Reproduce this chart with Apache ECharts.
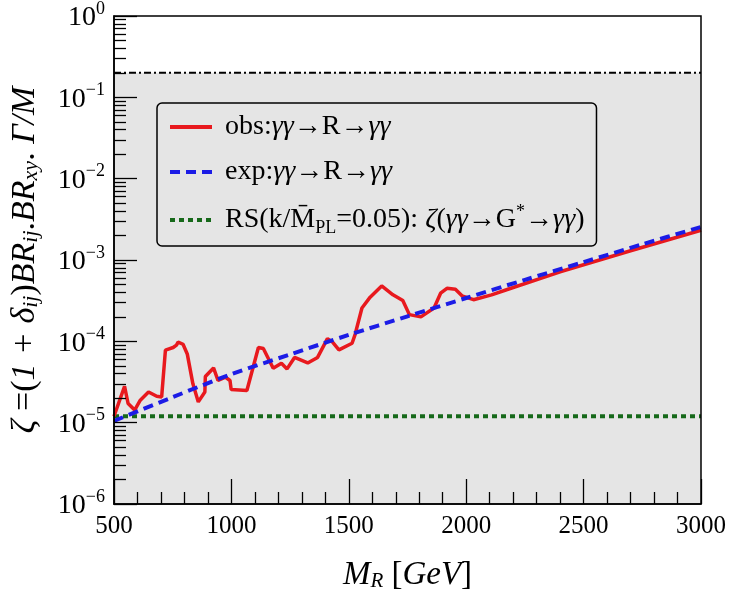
<!DOCTYPE html>
<html><head><meta charset="utf-8">
<script src="https://cdn.jsdelivr.net/npm/echarts@6/dist/echarts.min.js"></script>
<style>html,body{margin:0;padding:0;background:#fff}#c{width:729px;height:597px}</style>
</head><body><div id="c"></div>
<script>
// observed limit (red solid)
const massObs = [500, 545, 560, 588, 612, 647, 682, 703, 719, 752, 766, 773, 794, 812, 836, 859, 887, 889, 924, 943, 975, 994, 999, 1066, 1115, 1136, 1178, 1213, 1237, 1269, 1325, 1367, 1409, 1430, 1458, 1514, 1527, 1556, 1591, 1640, 1688, 1730, 1758, 1807, 1863, 1891, 1918, 1954, 1982, 2031, 2108, 2178, 2400, 2700, 3000];
const zetaObs = [1.2e-5, 2.8e-5, 1.72e-5, 1.43e-5, 1.89e-5, 2.38e-5, 2.11e-5, 2.07e-5, 7.8e-5, 8.4e-5, 9.0e-5, 9.8e-5, 9.2e-5, 7.0e-5, 3.0e-5, 1.8e-5, 2.38e-5, 3.69e-5, 4.71e-5, 3.3e-5, 3.62e-5, 3.3e-5, 2.55e-5, 2.49e-5, 8.4e-5, 8.15e-5, 4.66e-5, 5.36e-5, 4.58e-5, 6.34e-5, 5.42e-5, 6.34e-5, 1.08e-4, 9.84e-5, 7.86e-5, 9.48e-5, 1.22e-4, 2.57e-4, 3.49e-4, 4.8e-4, 3.73e-4, 3.18e-4, 2.13e-4, 2.0e-4, 2.57e-4, 3.91e-4, 4.49e-4, 4.37e-4, 3.63e-4, 3.25e-4, 3.73e-4, 4.37e-4, 7.16e-4, 1.3e-3, 2.32e-3];
// expected limit (blue dashed)
const massExp = [500, 750, 1000, 1250, 1500, 1750, 2000, 2250, 2500, 2750, 3000];
const zetaExp = [1.05e-5, 2.06e-5, 3.95e-5, 6.9e-5, 1.2e-4, 2.03e-4, 3.41e-4, 5.71e-4, 9.42e-4, 1.56e-3, 2.55e-3];
// RS graviton (green dotted)
const massRS = [500, 3000];
const zetaRS = [1.2e-5, 1.2e-5];
// perturbativity bound (black dash-dot, grey region below)
const massBound = [500, 3000];
const zetaBound = [0.2, 0.2];
// ticks
const xTicks = [500, 1000, 1500, 2000, 2500, 3000];
const yExponents = [-6, -5, -4, -3, -2, -1, 0];
const yMajor = yExponents.map(e => Math.pow(10, e));
const yMinor = [];
yExponents.slice(0, -1).forEach(e => { for (let k = 2; k <= 9; k++) yMinor.push(k * Math.pow(10, e)); });

const zip = (a, b) => a.map((v, i) => [v, b[i]]);
const serif = 'Liberation Serif, Times New Roman, DejaVu Serif, serif';

const legendNames = {
  obs: '{n|obs:}{i|γγ}{n|→R→}{i|γγ}',
  exp: '{n|exp:}{i|γγ}{n|→R→}{i|γγ}',
  rs: '{n|RS(k/M\u0304}{sub|PL}{n|=0.05): }{i|ζ}{n|(}{i|γγ}{n|→G}{sup|*}{n|→}{i|γγ}{n|)}'
};

const chart = echarts.init(document.getElementById('c'), null, {renderer: 'canvas'});
chart.setOption({
  animation: false,
  backgroundColor: '#fff',
  grid: {left: 110, right: 23, top: 16, bottom: 87, show: true, z: 10, borderColor: '#000', borderWidth: 1.5, backgroundColor: 'transparent'},
  legend: {
    data: ['obs', 'exp', 'rs'],
    orient: 'vertical',
    left: 157, top: 103,
    itemWidth: 42, itemHeight: 14, itemGap: 17,
    padding: [10, 12, 9, 11],
    borderColor: '#000', borderWidth: 1.5, borderRadius: 5,
    backgroundColor: 'transparent',
    itemStyle: {opacity: 0, borderWidth: 0},
    lineStyle: {width: 4},
    formatter: name => legendNames[name],
    textStyle: {
      padding: [0, 0, 0, 8],
      rich: {
        n: {fontFamily: serif, fontSize: 28, color: '#000'},
        i: {fontFamily: serif, fontSize: 28, fontStyle: 'italic', color: '#000'},
        sub: {fontFamily: serif, fontSize: 18, color: '#000', verticalAlign: 'bottom', lineHeight: 26},
        sup: {fontFamily: serif, fontSize: 18, color: '#000', verticalAlign: 'top', lineHeight: 34}
      }
    }
  },
  xAxis: {
    type: 'value', min: 500, max: 3000, interval: 500, z: 10,
    axisLine: {lineStyle: {color: '#000', width: 1.5}},
    axisTick: {inside: true, length: 25, lineStyle: {color: '#000', width: 1.3}},
    minorTick: {show: true, splitNumber: 5, length: 12, lineStyle: {color: '#000', width: 1.3}},
    splitLine: {show: false},
    axisLabel: {fontFamily: serif, fontSize: 25, color: '#000', margin: 10,
      formatter: v => xTicks.includes(v) ? String(v) : ''},
    name: '{i|M}{sub|R}{n| [}{i|GeV}{n|]}',
    nameLocation: 'middle', nameGap: 55,
    nameTextStyle: {
      rich: {
        i: {fontFamily: serif, fontSize: 33, fontStyle: 'italic', color: '#000'},
        n: {fontFamily: serif, fontSize: 33, color: '#000'},
        sub: {fontFamily: serif, fontSize: 21, fontStyle: 'italic', color: '#000', verticalAlign: 'bottom', lineHeight: 25}
      }
    }
  },
  yAxis: [{
    type: 'log', logBase: 10, min: 1e-6, max: 1, z: 10,
    axisLine: {lineStyle: {color: '#000', width: 1.5}},
    axisTick: {inside: true, length: 23, customValues: yMajor, lineStyle: {color: '#000', width: 1.3}},
    splitLine: {show: false},
    axisLabel: {
      customValues: yMajor, margin: 9,
      formatter: v => {
        const e = Math.round(Math.log10(v));
        return '{b|10}{s|' + (e < 0 ? '\u2212' + (-e) : String(e)) + '}';
      },
      rich: {
        b: {fontFamily: serif, fontSize: 28, color: '#000', lineHeight: 32, verticalAlign: 'bottom'},
        s: {fontFamily: serif, fontSize: 18, color: '#000', lineHeight: 32, verticalAlign: 'top'}
      }
    },
    name: '{i|ζ }{n|=(}{i|1 + δ}{sub|ij}{n|)}{i|BR}{sub|ij}{n|.}{i|BR}{sub|xy}{n|. }{i|Γ/M}',
    nameLocation: 'middle', nameRotate: 90, nameGap: 72,
    nameTextStyle: {
      rich: {
        i: {fontFamily: serif, fontSize: 34, fontStyle: 'italic', color: '#000'},
        n: {fontFamily: serif, fontSize: 34, color: '#000'},
        sub: {fontFamily: serif, fontSize: 22, fontStyle: 'italic', color: '#000', verticalAlign: 'bottom', lineHeight: 27}
      }
    }
  }, {
    type: 'log', logBase: 10, min: 1e-6, max: 1, position: 'left', offset: 0, z: 10,
    axisLine: {show: false},
    axisTick: {inside: true, length: 12, customValues: yMinor, lineStyle: {color: '#000', width: 1.3}},
    axisLabel: {show: false},
    splitLine: {show: false}
  }],
  series: [
    {
      name: 'bound', type: 'line', symbol: 'none', z: 1,
      data: zip(massBound, zetaBound),
      lineStyle: {color: '#000', width: 2, type: [7, 3, 2, 3]},
      markArea: {silent: true, itemStyle: {color: '#e5e5e5'},
        data: [[{yAxis: 1e-6}, {yAxis: 0.2}]]}
    },
    {
      name: 'rs', type: 'line', symbol: 'none', z: 3,
      data: zip(massRS, zetaRS),
      lineStyle: {color: '#16691a', width: 4, type: [5, 4]},
      itemStyle: {color: '#16691a'}
    },
    {
      name: 'obs', type: 'line', symbol: 'none', z: 4,
      data: zip(massObs, zetaObs),
      lineStyle: {color: '#e8191e', width: 3.5},
      itemStyle: {color: '#e8191e'}
    },
    {
      name: 'exp', type: 'line', symbol: 'none', z: 5, smooth: 0.3,
      data: zip(massExp, zetaExp),
      lineStyle: {color: '#1c1ce6', width: 4, type: [10, 6]},
      itemStyle: {color: '#1c1ce6'}
    }
  ]
});
</script>
</body></html>
